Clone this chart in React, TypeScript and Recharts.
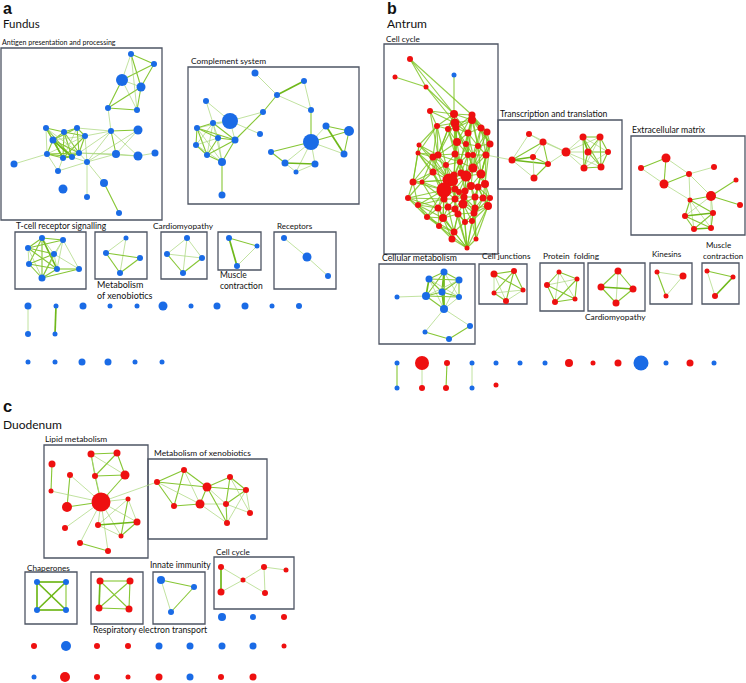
import React from 'react';
import { ScatterChart, Scatter, XAxis, YAxis, ReferenceLine, ReferenceArea } from 'recharts';

const BLUE = '#1a6be6';
const RED = '#ee1010';

type P = [number, number, number, string?];
type E = [number, number, number];

// ---------- Fundus ----------
const fAntigenNodes: P[] = [
  [131, 54, 3], [154, 64, 3], [122, 80, 6], [141, 87, 4.5], [108, 108, 3], [137, 110, 3],
  [46, 128, 3], [64, 132, 3], [77, 128, 3], [85, 136, 3], [53, 140, 3.5], [111, 131, 3],
  [138, 130, 4.5], [47, 154, 3], [63, 158, 3], [72, 157, 3], [79, 153, 3], [116, 154, 4],
  [138, 156, 4.5], [155, 153, 3.5], [14, 164, 3.5], [87, 162, 3], [58, 171, 3], [104, 183, 4],
  [63, 189, 4.5], [87, 197, 3], [119, 213, 3],
];
const fAntigenEdges: E[] = [
  [0, 1, 2], [0, 2, 1], [0, 3, 2], [1, 2, 2], [1, 3, 2], [2, 3, 1], [2, 4, 2], [2, 5, 1], [3, 4, 2], [3, 5, 2], [4, 5, 2], [0, 5, 1],
  [4, 11, 1], [11, 12, 2], [11, 17, 2], [11, 21, 1], [11, 18, 1], [12, 17, 1], [17, 18, 1], [18, 19, 1], [17, 21, 1], [11, 8, 1], [11, 16, 1], [12, 21, 1],
  [6, 7, 2], [6, 10, 2], [6, 13, 1], [6, 14, 2], [6, 15, 2], [7, 8, 2], [7, 10, 2], [7, 9, 2], [7, 14, 2], [7, 15, 2], [7, 16, 2], [8, 9, 2], [8, 10, 2],
  [8, 14, 1], [8, 16, 2], [9, 10, 1], [9, 13, 1], [9, 14, 2], [9, 16, 2], [10, 13, 2], [10, 14, 3], [10, 15, 3], [10, 16, 2], [13, 14, 2], [13, 15, 2],
  [13, 16, 2], [14, 15, 2], [14, 16, 2], [15, 16, 2], [6, 16, 1], [13, 20, 1], [16, 21, 1], [15, 21, 1], [9, 21, 1], [21, 22, 1], [22, 13, 1], [22, 14, 1],
  [21, 25, 1], [21, 23, 1], [23, 26, 2], [16, 17, 1], [16, 18, 1], [9, 11, 1],
];
const fComplementNodes: P[] = [
  [255, 73, 3.5], [304, 81, 3], [277, 95, 3], [206, 101, 3], [230, 121, 8], [263, 112, 3], [311, 110, 3],
  [213, 123, 3], [197, 128, 3], [218, 138, 3], [235, 140, 3.5], [260, 134, 3], [196, 145, 3], [207, 155, 3],
  [222, 162, 4], [311, 142, 8], [326, 126, 3.5], [349, 131, 5], [344, 154, 3.5], [271, 152, 3], [285, 163, 3.5],
  [315, 164, 3.5], [296, 172, 2.5], [222, 195, 3.5],
];
const fComplementEdges: E[] = [
  [0, 2, 1], [1, 2, 3], [1, 6, 1], [2, 6, 1], [2, 5, 2], [5, 4, 1], [5, 10, 2], [6, 15, 2], [3, 4, 1], [3, 7, 1], [4, 7, 1], [4, 8, 1], [4, 10, 1], [4, 11, 1],
  [7, 8, 2], [7, 9, 1], [7, 10, 2], [7, 12, 1], [7, 13, 1], [8, 9, 2], [8, 10, 2], [8, 12, 2], [8, 13, 2], [8, 14, 1], [9, 10, 2], [9, 12, 1], [9, 13, 2],
  [9, 14, 1], [10, 13, 2], [10, 14, 2], [12, 13, 2], [12, 14, 1], [13, 14, 2], [7, 14, 1],
  [14, 23, 2], [15, 16, 1], [15, 17, 2], [15, 18, 1], [15, 19, 2], [15, 20, 1], [15, 21, 1], [15, 22, 1], [16, 17, 2], [16, 18, 3], [17, 18, 2],
  [19, 20, 2], [20, 21, 3], [20, 22, 1], [21, 22, 1],
];
const fTcellNodes: P[] = [
  [42, 238, 3], [63, 240, 3], [28, 248, 3], [54, 254, 3], [29, 264, 3], [57, 269, 3], [79, 269, 3], [42, 278, 3.5],
];
const fTcellEdges: E[] = [
  [0, 1, 2], [0, 2, 2], [0, 3, 1], [0, 4, 2], [0, 5, 3], [0, 7, 2], [1, 2, 2], [1, 3, 1], [1, 6, 1], [1, 5, 1], [1, 7, 1], [2, 3, 2],
  [2, 4, 1], [2, 5, 2], [2, 7, 1], [3, 4, 2], [3, 5, 1], [3, 7, 2], [4, 5, 2], [4, 7, 2], [5, 6, 2], [5, 7, 2], [6, 7, 2], [3, 6, 1],
];
const fXenoNodes: P[] = [[126, 238, 2.5], [106, 253, 3], [140, 258, 3], [120, 273, 3]];
const fXenoEdges: E[] = [[0, 1, 1], [0, 3, 1], [1, 2, 2], [1, 3, 2], [2, 3, 2]];
const fCardioNodes: P[] = [[187, 238, 3], [167, 254, 3], [202, 258, 3], [183, 273, 3]];
const fCardioEdges: E[] = [[0, 1, 1], [0, 2, 1], [0, 3, 1], [1, 2, 1], [1, 3, 2], [2, 3, 2]];
const fMuscleNodes: P[] = [[229, 238, 3], [257, 246, 2.5], [237, 266, 3]];
const fMuscleEdges: E[] = [[0, 1, 2], [0, 2, 3], [1, 2, 1]];
const fReceptorNodes: P[] = [[284, 238, 3], [307, 257, 4.5], [328, 276, 3]];
const fReceptorEdges: E[] = [[0, 1, 1], [1, 2, 1]];
const fSingleNodes: P[] = [
  [28, 306, 3.5], [56, 306, 2.5], [83, 306, 3.5], [110, 306, 2.5], [137, 306, 2.5], [163, 306, 4.5], [191, 306, 2.5],
  [217, 306, 3.5], [245, 306, 3.5], [272, 306, 2.5], [299, 306, 3],
  [28, 334, 3], [55, 334, 2.5],
  [28, 362, 2.5], [55, 362, 2.5], [82, 362, 3.5], [108, 362, 3.5], [135, 362, 2.5], [162, 362, 2.5],
];
const fSingleEdges: E[] = [[0, 11, 1], [1, 12, 3]];

// ---------- Antrum ----------
const aCycleNodes: P[] = [
  [410, 59, 3], [395, 77, 2.5], [454, 75, 2.5, 'b'], [426, 87, 2.5], [430, 111, 3], [454, 114, 4], [472, 115, 3.5],
  [455, 123, 4.5], [472, 120, 4], [437, 126, 3], [448, 129, 3], [456, 128, 3.5], [481, 128, 3.5], [487, 132, 3.5],
  [468, 133, 3.5], [419, 145, 2.5], [418, 153, 2.5], [457, 142, 4], [466, 144, 3], [478, 146, 3], [490, 144, 3.5],
  [438, 155, 3.5], [433, 157, 3.5], [455, 154, 3.5], [468, 155, 3], [473, 155, 3], [486, 155, 3.5], [460, 162, 3],
  [446, 165, 3], [473, 168, 4.5], [433, 172, 3.5], [454, 175, 3.5], [461, 173, 3.5], [481, 174, 4.5], [449, 180, 6.5],
  [466, 176, 5.5], [453, 181, 5], [413, 182, 3.5], [422, 182, 2.5], [485, 184, 4], [444, 190, 7.5], [455, 189, 3.5],
  [465, 191, 3.5], [471, 186, 4], [478, 187, 3.5], [459, 192, 3], [408, 198, 3], [444, 199, 3.5], [455, 199, 3.5],
  [464, 197, 3.5], [475, 197, 3.5], [483, 198, 3.5], [490, 198, 3], [418, 205, 3], [438, 208, 3.5], [448, 207, 3.5],
  [455, 209, 3.5], [463, 204, 4.5], [475, 208, 3.5], [488, 206, 4], [427, 217, 3], [443, 218, 4], [458, 214, 3.5],
  [474, 213, 3.5], [465, 222, 3], [472, 221, 3], [439, 226, 3], [454, 232, 3.5], [452, 239, 3.5], [476, 239, 2.5],
  [467, 248, 2.5],
];
const aCycleAdj: number[][] = [
  [3, 5, 6], [3], [5], [5, 7], [5, 7, 9, 21], [6, 7, 8, 9, 10, 11, 14, 17, 21, 23], [8, 11, 12, 13, 14, 19, 20, 17],
  [8, 9, 10, 11, 14, 17, 21, 23, 24], [11, 12, 13, 14, 18, 19, 20, 24], [10, 15, 16, 21, 22, 28], [11, 17, 21, 23, 27], [14, 17, 18, 23, 24],
  [13, 14, 19, 20, 26, 25], [19, 20, 26, 29], [17, 18, 19, 24, 25, 27], [16, 21, 22, 37, 34], [21, 22, 30, 37, 40, 34], [18, 21, 23, 24, 27, 31],
  [19, 24, 25, 27, 29], [20, 25, 26, 29, 33], [26, 29, 33, 39], [22, 23, 27, 28, 30, 34], [28, 30, 37, 38, 34, 40], [24, 27, 28, 31, 32, 35],
  [25, 27, 29, 32, 35], [26, 29, 33, 35], [29, 33, 39, 44], [28, 29, 31, 32, 35, 36], [30, 31, 34, 36, 40], [32, 33, 35, 39, 43, 42],
  [34, 37, 38, 40, 47], [32, 34, 35, 36, 41], [35, 36, 42], [35, 39, 43, 44, 50], [36, 38, 40, 41, 47, 48], [36, 41, 42, 43, 45, 49],
  [40, 41, 45, 48], [38, 40, 46, 53, 34], [40, 46, 47, 54], [43, 44, 51, 52, 59], [41, 46, 47, 48, 53, 54, 55, 60, 61], [42, 45, 47, 48, 56],
  [43, 45, 48, 49, 57], [44, 49, 50, 58], [50, 51, 52, 59, 58], [48, 49, 57], [47, 53, 60, 54], [48, 53, 54, 55, 61], [49, 55, 56, 57, 62],
  [50, 56, 57, 58, 63], [51, 57, 58, 63], [52, 58, 59, 65], [59, 63], [54, 60, 61, 66], [55, 60, 61, 66, 67], [56, 61, 62, 67], [57, 61, 62, 70, 64],
  [58, 62, 63, 64, 70, 65], [59, 63, 65, 69], [63, 65, 69, 70], [61, 66, 67], [62, 66, 67, 68, 70], [63, 64, 67, 70, 68], [64, 65, 69, 70],
  [65, 67, 70], [69, 70], [67, 68, 70], [68, 70], [70], [70], [],
];
const aTransNodes: P[] = [
  [529, 134, 3], [543, 142, 3.5], [512, 160, 3.5], [533, 157, 3], [548, 164, 3], [534, 178, 3.5], [566, 152, 4.5],
  [583, 137, 3.5], [600, 137, 3.5], [588, 152, 3.5], [608, 152, 3], [584, 168, 3.5], [601, 167, 3.5],
];
const aTransEdges: E[] = [
  [0, 1, 1], [0, 2, 1], [1, 2, 2], [1, 3, 1], [1, 4, 2], [2, 3, 3], [2, 4, 3], [2, 5, 1], [3, 4, 2], [3, 5, 1], [4, 5, 2], [1, 6, 1],
  [4, 6, 1], [0, 6, 1], [6, 7, 1], [6, 9, 1], [6, 11, 1], [6, 12, 1], [6, 8, 1], [7, 8, 2], [7, 9, 3], [7, 11, 2], [7, 12, 2], [7, 10, 1],
  [8, 9, 2], [8, 10, 2], [8, 12, 2], [8, 11, 1], [9, 10, 2], [9, 11, 2], [9, 12, 2], [10, 12, 2], [11, 12, 2], [10, 11, 1],
];
const aEcmNodes: P[] = [
  [666, 158, 4.5], [641, 168, 3], [664, 184, 4.5], [689, 174, 3], [714, 167, 3], [736, 180, 2.5], [711, 196, 5],
  [690, 200, 2.5], [740, 205, 3], [685, 216, 3], [713, 213, 3], [694, 229, 3], [711, 228, 3],
];
const aEcmEdges: E[] = [
  [0, 1, 2], [0, 2, 2], [1, 2, 1], [0, 3, 1], [2, 3, 2], [3, 4, 1], [3, 7, 1], [3, 6, 1], [6, 5, 2], [6, 8, 2], [6, 7, 2], [6, 9, 1],
  [6, 10, 1], [6, 12, 1], [7, 9, 2], [7, 10, 2], [7, 11, 1], [7, 12, 1], [9, 10, 3], [9, 11, 2], [9, 12, 2], [10, 11, 2], [10, 12, 2],
  [11, 12, 3], [2, 7, 1],
];
const aMetabNodes: P[] = [
  [444, 272, 3.5], [429, 279, 3.5], [459, 280, 3.5], [442, 292, 3.5], [426, 296, 4], [459, 297, 3], [397, 297, 2.5],
  [444, 309, 4], [470, 326, 3], [425, 332, 2.5], [449, 339, 3],
];
const aMetabEdges: E[] = [
  [0, 1, 2], [0, 2, 2], [0, 3, 3], [0, 4, 2], [0, 5, 1], [0, 7, 3], [1, 2, 2], [1, 3, 2], [1, 4, 3], [1, 5, 1], [1, 7, 1], [2, 3, 2],
  [2, 4, 1], [2, 5, 2], [2, 7, 1], [3, 4, 2], [3, 5, 2], [3, 7, 3], [4, 5, 2], [4, 7, 2], [5, 7, 1], [4, 6, 1], [7, 8, 1], [7, 9, 1],
  [8, 10, 2], [9, 10, 2],
];
const aJuncNodes: P[] = [[494, 274, 3.5], [514, 271, 3], [494, 293, 2.5], [523, 290, 2.5], [506, 301, 3]];
const aJuncEdges: E[] = [[0, 1, 2], [0, 2, 1], [0, 3, 2], [0, 4, 1], [1, 2, 2], [1, 3, 2], [1, 4, 2], [2, 4, 2], [3, 4, 1], [2, 3, 1]];
const aFoldNodes: P[] = [[559, 272, 2.5], [547, 285, 3], [577, 279, 2.5], [555, 302, 3], [575, 299, 2.5]];
const aFoldEdges: E[] = [[0, 1, 2], [0, 2, 2], [0, 3, 1], [0, 4, 1], [1, 2, 1], [1, 3, 2], [1, 4, 2], [2, 3, 2], [2, 4, 2], [3, 4, 2]];
const aCardioNodes: P[] = [[618, 271, 3.5], [601, 287, 3.5], [633, 289, 3.5], [616, 303, 3.5]];
const aCardioEdges: E[] = [[0, 1, 2], [0, 2, 2], [0, 3, 1], [1, 2, 3], [1, 3, 2], [2, 3, 2]];
const aKinesinNodes: P[] = [[657, 272, 2.5], [683, 276, 3.5], [666, 296, 2.5]];
const aKinesinEdges: E[] = [[0, 1, 1], [0, 2, 2], [1, 2, 1]];
const aMuscleNodes: P[] = [[707, 271, 2.5], [733, 277, 2.5], [715, 296, 3]];
const aMuscleEdges: E[] = [[0, 1, 2], [0, 2, 1], [1, 2, 3]];
const aSingleNodes: P[] = [
  [397, 363, 2.5, 'b'], [422, 363, 7, 'r'], [447, 363, 3, 'r'], [472, 363, 2.5, 'b'], [496, 363, 2.5, 'b'], [520, 363, 2.5, 'b'],
  [545, 363, 2.5, 'b'], [569, 363, 4, 'r'], [593, 363, 2.5, 'r'], [618, 363, 3.5, 'r'], [641, 363, 7.5, 'b'], [666, 363, 2.5, 'b'],
  [690, 363, 3.5, 'r'], [714, 363, 2.5, 'b'],
  [397, 388, 2.5, 'b'], [422, 388, 3, 'r'], [446, 388, 3, 'r'], [472, 388, 2.5, 'b'], [496, 385, 2.5, 'r'],
];
const aSingleEdges: E[] = [[0, 14, 2], [1, 15, 1], [2, 16, 2], [3, 17, 1]];

// ---------- Duodenum ----------
const dLipidNodes: P[] = [
  [91, 454, 3.5], [117, 453, 3.5], [52, 464, 3.5], [70, 475, 3], [95, 476, 3], [125, 475, 4.5], [51, 491, 2.5],
  [101, 502, 9.5], [128, 499, 2.5], [67, 507, 5], [98, 525, 3], [137, 522, 3.5], [65, 528, 3], [121, 536, 2.5],
  [80, 543, 3], [108, 551, 3],
];
const dLipidEdges: E[] = [
  [0, 1, 2], [0, 4, 2], [0, 5, 1], [1, 4, 2], [1, 5, 2], [4, 5, 2], [2, 6, 2], [3, 9, 2], [6, 7, 1], [4, 7, 2], [5, 7, 2], [9, 7, 2],
  [3, 7, 1], [7, 8, 1], [7, 10, 1], [7, 11, 1], [7, 13, 1], [7, 12, 1], [7, 14, 1], [7, 15, 1], [8, 10, 1], [8, 11, 1], [8, 13, 2],
  [10, 11, 3], [10, 13, 1], [11, 13, 2], [14, 15, 2], [0, 7, 1],
];
const dXenoNodes: P[] = [
  [184, 470, 3], [157, 482, 3], [230, 477, 3], [207, 487, 4.5], [246, 490, 3], [174, 506, 3], [200, 504, 4.5],
  [226, 504, 3], [250, 513, 3], [227, 523, 3],
];
const dXenoEdges: E[] = [
  [0, 1, 2], [0, 3, 2], [0, 5, 2], [1, 3, 2], [1, 5, 2], [1, 6, 1], [0, 6, 1], [5, 6, 2], [3, 6, 2], [3, 2, 2], [3, 4, 2], [3, 7, 1],
  [2, 4, 2], [2, 7, 2], [4, 7, 2], [7, 9, 2], [6, 7, 1], [6, 9, 1], [3, 9, 2], [4, 8, 1], [2, 8, 1], [7, 8, 1], [4, 9, 1],
];
const dChapNodes: P[] = [[37, 582, 3], [66, 582, 3], [37, 610, 3], [66, 610, 3]];
const dChapEdges: E[] = [[0, 1, 3], [0, 2, 3], [0, 3, 3], [1, 2, 3], [1, 3, 2], [2, 3, 3]];
const dRespNodes: P[] = [[100, 581, 3.5], [130, 581, 3.5], [99, 608, 3.5], [129, 609, 3.5]];
const dRespEdges: E[] = [[0, 1, 2], [0, 2, 3], [0, 3, 2], [1, 2, 2], [1, 3, 2], [2, 3, 2]];
const dInnateNodes: P[] = [[161, 580, 4], [194, 587, 3], [171, 612, 3]];
const dInnateEdges: E[] = [[0, 1, 2], [1, 2, 2], [0, 2, 1]];
const dCycleNodes: P[] = [[221, 567, 3], [243, 580, 2.5], [264, 567, 3], [286, 570, 2.5], [221, 592, 3.5], [265, 593, 3]];
const dCycleEdges: E[] = [[0, 4, 3], [0, 1, 1], [4, 1, 1], [1, 2, 1], [1, 5, 1], [2, 5, 1], [2, 3, 1]];
const dSingleNodes: P[] = [
  [222, 617, 4, 'b'], [253, 617, 3, 'b'], [284, 617, 3, 'r'],
  [34, 646, 3, 'r'], [66, 646, 5, 'b'], [97, 646, 3, 'r'], [128, 646, 3, 'r'], [159, 646, 3.5, 'b'], [190, 646, 3.5, 'b'],
  [222, 646, 3.5, 'b'], [253, 646, 3.5, 'b'], [284, 646, 2.5, 'r'],
  [34, 677, 2.5, 'b'], [65, 677, 5, 'r'], [97, 677, 3, 'r'], [128, 677, 2.5, 'r'], [159, 677, 3.5, 'r'], [190, 677, 3.5, 'b'],
  [221, 677, 3, 'r'], [253, 677, 3.5, 'r'],
];

// module boxes [x1, y1, x2, y2]
const boxes: [number, number, number, number][] = [
  [1, 48, 162, 220], [188, 67, 359, 204], [15, 232, 86, 289], [95, 232, 147, 279], [161, 232, 207, 279], [218, 232, 261, 270], [274, 232, 336, 289],
  [384, 44, 498, 254], [498, 120, 622, 189], [631, 136, 745, 235], [379, 264, 475, 344], [479, 264, 527, 304], [540, 263, 584, 311],
  [588, 263, 645, 311], [650, 263, 692, 304], [702, 263, 739, 304],
  [44, 445, 148, 558], [148, 459, 267, 539], [25, 572, 77, 624], [91, 572, 143, 624], [153, 572, 205, 624], [214, 557, 294, 609],
];

// texts [x, baseline y, text, size, bold]
const labels: [number, number, string, number, boolean][] = [
  [3, 14, 'a', 16, true], [3, 28, 'Fundus', 11.5, false],
  [2, 45, 'Antigen presentation and processing', 7.1, false], [191, 64, 'Complement system', 8.4, false],
  [16, 229, 'T-cell receptor signalling', 8.5, false], [153, 229, 'Cardiomyopathy', 8.3, false], [277, 229, 'Receptors', 8, false],
  [97, 288, 'Metabolism', 9, false], [97, 299, 'of xenobiotics', 9, false],
  [220, 278, 'Muscle', 8.5, false], [220, 289, 'contraction', 8.5, false],
  [387, 14, 'b', 16, true], [387, 28, 'Antrum', 12, false], [386, 42, 'Cell cycle', 8.2, false],
  [500, 117, 'Transcription and translation', 8.6, false], [632, 133, 'Extracellular matrix', 8.7, false],
  [382, 261, 'Cellular metabolism', 8.7, false], [482, 259, 'Cell junctions', 8.2, false], [543, 259, 'Protein  folding', 8.4, false],
  [585, 320, 'Cardiomyopathy', 8.4, false], [652, 257, 'Kinesins', 8, false],
  [706, 248, 'Muscle', 8, false], [703, 259, 'contraction', 8, false],
  [3, 412, 'c', 16.5, true], [3, 428.5, 'Duodenum', 12, false], [45, 442, 'Lipid metabolism', 8.4, false],
  [154, 456, 'Metabolism of xenobiotics', 8.4, false], [27, 571, 'Chaperones', 8.2, false],
  [93, 633, 'Respiratory electron transport', 8.7, false], [150, 568, 'Innate immunity', 8.5, false], [216, 555, 'Cell cycle', 8.2, false],
];

// ---------- build tables ----------
const cycleEdges: E[] = [];
aCycleAdj.forEach((nb, i) => nb.forEach((j) => cycleEdges.push([i, j, 0])));

const groups: Record<string, { n: P[]; e: E[]; c: string }> = {
  fAG: { n: fAntigenNodes, e: fAntigenEdges, c: 'b' },
  fCS: { n: fComplementNodes, e: fComplementEdges, c: 'b' },
  fTC: { n: fTcellNodes, e: fTcellEdges, c: 'b' },
  fMX: { n: fXenoNodes, e: fXenoEdges, c: 'b' },
  fCM: { n: fCardioNodes, e: fCardioEdges, c: 'b' },
  fMC: { n: fMuscleNodes, e: fMuscleEdges, c: 'b' },
  fRC: { n: fReceptorNodes, e: fReceptorEdges, c: 'b' },
  fSG: { n: fSingleNodes, e: fSingleEdges, c: 'b' },
  aCC: { n: aCycleNodes, e: cycleEdges, c: 'r' },
  aTT: { n: aTransNodes, e: aTransEdges, c: 'r' },
  aEM: { n: aEcmNodes, e: aEcmEdges, c: 'r' },
  aCM: { n: aMetabNodes, e: aMetabEdges, c: 'b' },
  aCJ: { n: aJuncNodes, e: aJuncEdges, c: 'r' },
  aPF: { n: aFoldNodes, e: aFoldEdges, c: 'r' },
  aCA: { n: aCardioNodes, e: aCardioEdges, c: 'r' },
  aKN: { n: aKinesinNodes, e: aKinesinEdges, c: 'r' },
  aMC: { n: aMuscleNodes, e: aMuscleEdges, c: 'r' },
  aSG: { n: aSingleNodes, e: aSingleEdges, c: 'r' },
  dLM: { n: dLipidNodes, e: dLipidEdges, c: 'r' },
  dMX: { n: dXenoNodes, e: dXenoEdges, c: 'r' },
  dCH: { n: dChapNodes, e: dChapEdges, c: 'b' },
  dRE: { n: dRespNodes, e: dRespEdges, c: 'r' },
  dII: { n: dInnateNodes, e: dInnateEdges, c: 'b' },
  dCC: { n: dCycleNodes, e: dCycleEdges, c: 'r' },
  dSG: { n: dSingleNodes, e: [], c: 'r' },
};
const crossEdges: [string, number, string, number, number][] = [
  ['aCC', 26, 'aTT', 2, 1],
  ['dLM', 7, 'dMX', 1, 1],
];

type Node = { x: number; y: number; r: number; fill: string };
type Edge = { x1: number; y1: number; x2: number; y2: number; w: number };
const nodeData: Node[] = [];
const edgeData: Edge[] = [];
Object.values(groups).forEach((g) => {
  g.e.forEach(([a, b, w]) => {
    const p = g.n[a];
    const q = g.n[b];
    edgeData.push({ x1: p[0], y1: p[1], x2: q[0], y2: q[1], w });
  });
  g.n.forEach((p) => {
    const c = p[3] || g.c;
    nodeData.push({ x: p[0], y: p[1], r: p[2], fill: c === 'b' ? BLUE : RED });
  });
});
crossEdges.forEach(([ga, ia, gb, ib, w]) => {
  const p = groups[ga].n[ia];
  const q = groups[gb].n[ib];
  edgeData.push({ x1: p[0], y1: p[1], x2: q[0], y2: q[1], w });
});
const labelData = labels.map(([x, y, text, size, bold]) => ({ x, y, text, size, bold }));

const edgeStyle = (w: number) => {
  if (w === 0) return { stroke: '#78c21a', width: 1.15, op: 0.8 };
  if (w === 1) return { stroke: '#a9d77a', width: 0.8, op: 0.9 };
  if (w === 2) return { stroke: '#86c634', width: 1.1, op: 1 };
  return { stroke: '#6fb81a', width: 1.7, op: 1 };
};

const NodeShape = (props: any) => {
  const d = props.payload || props;
  return <circle cx={props.cx} cy={props.cy} r={d.r} fill={d.fill} />;
};
const LabelShape = (props: any) => {
  const d = props.payload || props;
  return (
    <text
      x={props.cx}
      y={props.cy}
      fontSize={d.size}
      fontWeight={d.bold ? 700 : 400}
      fontFamily={d.bold ? 'Liberation Sans, Arial, sans-serif' : 'Lato, "Open Sans", sans-serif'}
      fill="#111"
      textAnchor="start"
      style={{ whiteSpace: 'pre' }}
    >
      {d.text}
    </text>
  );
};

export default function App() {
  return (
    <div style={{ position: 'absolute', left: 0, top: 0, width: 746, height: 683, background: '#fff' }}>
      <ScatterChart width={746} height={683} margin={{ top: 0, right: 0, bottom: 0, left: 0 }}>
        <XAxis type="number" dataKey="x" domain={[0, 746]} hide allowDataOverflow />
        <YAxis type="number" dataKey="y" domain={[0, 683]} reversed hide allowDataOverflow />
        {boxes.map(([x1, y1, x2, y2], i) => (
          <ReferenceArea
            key={'b' + i}
            x1={x1}
            x2={x2}
            y1={y1}
            y2={y2}
            fill="none"
            fillOpacity={0}
            stroke="#4e5564"
            strokeWidth={1.3}
            ifOverflow="visible"
          />
        ))}
        {edgeData.map((d, i) => {
          const s = edgeStyle(d.w);
          return (
            <ReferenceLine
              key={'e' + i}
              segment={[{ x: d.x1, y: d.y1 }, { x: d.x2, y: d.y2 }]}
              stroke={s.stroke}
              strokeWidth={s.width}
              strokeOpacity={s.op}
              ifOverflow="visible"
            />
          );
        })}
        <Scatter data={nodeData} shape={NodeShape} isAnimationActive={false} />
        <Scatter data={labelData} shape={LabelShape} isAnimationActive={false} />
      </ScatterChart>
    </div>
  );
}
